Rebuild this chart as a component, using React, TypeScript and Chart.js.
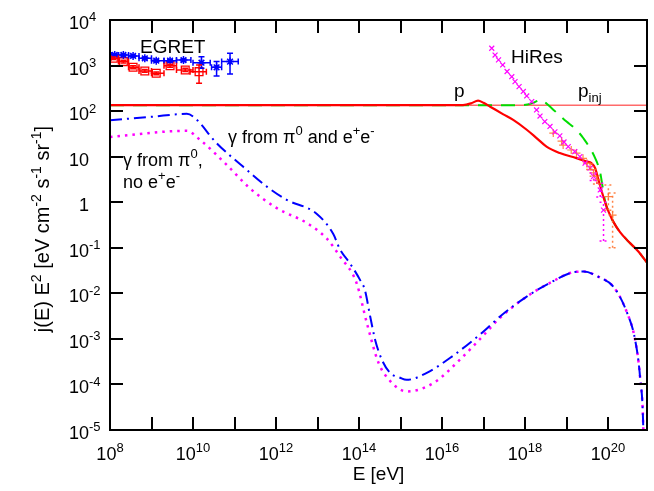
import React, { useEffect, useRef } from 'react';
import { Chart, registerables } from 'chart.js';
Chart.register(...registerables);

// ---------- axis ranges & ticks ----------
const E_MIN = 1e8;
const E_MAX = 8.7e20;
const F_MIN = 1e-5;
const F_MAX = 1e4;

const xTickValues = [1e8, 1e9, 1e10, 1e11, 1e12, 1e13, 1e14, 1e15, 1e16, 1e17, 1e18, 1e19, 1e20];
const xLabelValues = [1e8, 1e10, 1e12, 1e14, 1e16, 1e18, 1e20];
const xLabelExps = ['8', '10', '12', '14', '16', '18', '20'];
const yTickValues = [1e4, 1e3, 1e2, 10, 1, 1e-1, 1e-2, 1e-3, 1e-4, 1e-5];
const yLabelBases = ['10', '10', '10', '10', '1', '10', '10', '10', '10', '10'];
const yLabelExps = ['4', '3', '2', '', '', '-1', '-2', '-3', '-4', '-5'];

// ---------- curves ----------
const pInjE = [1e8, 8.7e20];
const pInjFlux = [135, 135];

const protonE = [1e8, 1e12, 1e16, 3.2e16, 5e16, 7.4e16, 1e17, 1.45e17, 3e17, 5.2e17, 1.1e18, 1.9e18, 3.3e18, 6.9e18, 1.74e19, 3.1e19, 3.98e19, 4.9e19, 5.9e19, 7.1e19, 8.5e19, 1e20, 1.35e20, 1.95e20, 3.16e20, 5.25e20, 8.7e20];
const protonFlux = [135, 135, 135, 136, 148, 170, 152, 125, 85, 64, 39, 25.6, 16.6, 12, 9.3, 7.8, 7.2, 5.6, 3.1, 1.7, 1.0, 0.66, 0.37, 0.22, 0.135, 0.085, 0.047];

const protonNoLossE = [1e8, 1e16, 7.9e17, 1.4e18, 2e18, 2.4e18, 3.2e18, 4.4e18, 1e19, 1.58e19, 2.5e19, 4.9e19, 6.5e19, 7.4e19, 8.5e19, 1e20, 1.35e20, 1.95e20, 3.16e20, 5.25e20, 8.7e20];
const protonNoLossFlux = [135, 135, 135, 146, 168, 177, 150, 116, 59, 42, 26, 9.3, 4.4, 2.2, 1.05, 0.66, 0.37, 0.22, 0.135, 0.085, 0.047];

const gammaPairE = [1e8, 1e9, 7.1e9, 1.12e10, 3.7e10, 1.6e11, 6e11, 1.8e12, 9.5e12, 2.4e13, 3.5e13, 6e13, 1.05e14, 1.38e14, 1.86e14, 2.45e14, 3.55e14, 5.6e14, 9.8e14, 1.4e15, 4.3e15, 1.55e16, 1e17, 2.5e17, 1.1e18, 4e18, 1.45e19, 2.6e19, 6.5e19, 1.35e20, 2.8e20, 4.5e20, 5.9e20, 7.1e20, 7.4e20];
const gammaPairFlux = [63, 75, 87, 70, 19.8, 6.05, 2.2, 1.13, 0.56, 0.2, 0.091, 0.046, 0.02, 0.012, 0.0031, 9.5e-4, 3.5e-4, 1.8e-4, 1.4e-4, 1.26e-4, 1.8e-4, 3.8e-4, 1.45e-3, 3.1e-3, 8.5e-3, 0.017, 0.029, 0.030, 0.022, 0.014, 0.004, 9.5e-4, 1.5e-4, 1e-5, 1e-6];

const gammaNoPairE = [1e8, 7.1e9, 1.48e10, 6.5e10, 2.3e11, 1.05e12, 5.5e12, 1.66e13, 3.5e13, 8.7e13, 1.55e14, 2.95e14, 5.6e14, 1.4e15, 6.2e15, 2.7e16, 1e17, 2.5e17, 1.1e18, 4e18, 1.45e19, 2.6e19, 6.5e19, 1.35e20, 2.8e20, 4.5e20, 5.9e20, 7.1e20, 7.4e20];
const gammaNoPairFlux = [27, 37, 23.4, 6.6, 2.05, 0.74, 0.35, 0.16, 0.064, 0.017, 2.2e-3, 3e-4, 1.2e-4, 7e-5, 1.07e-4, 3.5e-4, 1.2e-3, 2.9e-3, 8.5e-3, 0.017, 0.029, 0.030, 0.022, 0.014, 0.004, 9.5e-4, 1.5e-4, 1e-5, 1e-6];

// ---------- HiRes data ----------
const hiresE = [1.58e17, 1.9e17, 2.3e17, 2.9e17, 3.7e17, 4.8e17, 5.75e17, 7.2e17, 9.1e17, 1.1e18, 1.45e18, 1.9e18, 2.3e18, 3e18, 4e18, 5.25e18, 6.9e18, 8.7e18, 1.1e19, 1.58e19, 2.1e19, 2.8e19, 3.7e19, 4.5e19, 6.5e19, 7.8e19];
const hiresFlux = [2400, 1700, 1330, 1030, 740, 570, 445, 345, 270, 215, 162, 106, 78, 59, 46, 35, 28.6, 21, 16.6, 12.9, 10, 7.2, 5.6, 3.7, 1.86, 0.67];
const hiresLo = [null, null, null, null, null, null, null, null, null, null, null, null, null, null, null, null, null, null, null, null, null, null, null, 3.0, 1.3, 0.14];
const hiresHi = [null, null, null, null, null, null, null, null, null, null, null, null, null, null, null, null, null, null, null, null, null, null, null, 4.4, 2.6, 1.0];

const hires2E = [4.8e18, 7.6e18, 8.3e18, 1.3e19, 1.74e19, 2.5e19, 3.1e19, 3.7e19, 4.5e19, 5.4e19, 1.02e20, 1.29e20];
const hires2Flux = [33, 22, 18, 14, 12, 9.2, 7.2, 6, 4.4, 3.1, 1.33, 0.52];
const hires2Lo = [null, null, null, null, null, null, null, 5.2, 3.7, 2.5, 0.67, 0.1];
const hires2Hi = [null, null, null, null, null, null, null, 7.0, 5.2, 3.8, 2.4, 1.6];

// ---------- EGRET data ----------
const egretBlueE = [1.3e8, 2.1e8, 3.6e8, 6.9e8, 1.3e9, 2.8e9, 5.9e9, 1.6e10, 3.7e10, 7.8e10];
const egretBlueFlux = [1710, 1710, 1625, 1445, 1280, 1280, 1320, 1155, 916, 1220];
const egretBlueElo = [1.07e8, 1.6e8, 2.8e8, 5e8, 1e9, 2e9, 4e9, 1e10, 2.8e10, 4.9e10];
const egretBlueEhi = [1.6e8, 2.8e8, 5e8, 1e9, 2e9, 4e9, 8.9e9, 2.6e10, 4.9e10, 1.23e11];
const egretBlueFlo = [1620, 1630, 1550, 1370, 1210, 1200, 1230, 870, 590, 655];
const egretBlueFhi = [1800, 1790, 1700, 1520, 1350, 1360, 1410, 1565, 1220, 1860];

const egretRedE = [1.2e8, 2.1e8, 3.6e8, 6.9e8, 1.3e9, 2.8e9, 6.5e9, 1.4e10];
const egretRedFlux = [1445, 1220, 916, 762, 676, 995, 802, 735];
const egretRedElo = [1.05e8, 1.6e8, 2.8e8, 5e8, 1e9, 2e9, 4e9, 8.5e9];
const egretRedEhi = [1.6e8, 2.8e8, 5e8, 1e9, 2e9, 4e9, 1e10, 2.1e10];
const egretRedFlo = [1350, 1140, 850, 710, 630, 920, 740, 410];
const egretRedFhi = [1540, 1300, 985, 820, 725, 1070, 870, 1030];

const FONT = '"Liberation Sans", Arial, Helvetica, sans-serif';

type Part = { t: string; s?: 'sup' | 'sub' };

function partsWidth(ctx: CanvasRenderingContext2D, parts: Part[], size: number) {
  let w = 0;
  for (const p of parts) {
    ctx.font = `${p.s ? Math.round(size * 0.7) : size}px ${FONT}`;
    w += ctx.measureText(p.t).width;
  }
  return w;
}

function drawParts(ctx: CanvasRenderingContext2D, parts: Part[], x: number, y: number, size: number, align: 'left' | 'center' | 'right') {
  const w = partsWidth(ctx, parts, size);
  let cx = align === 'center' ? x - w / 2 : align === 'right' ? x - w : x;
  ctx.textAlign = 'left';
  ctx.textBaseline = 'alphabetic';
  for (const p of parts) {
    const fs = p.s ? Math.round(size * 0.7) : size;
    ctx.font = `${fs}px ${FONT}`;
    const dy = p.s === 'sup' ? -size * 0.42 : p.s === 'sub' ? size * 0.28 : 0;
    ctx.fillText(p.t, cx, y + dy);
    cx += ctx.measureText(p.t).width;
  }
}

const pts = (xs: number[], ys: number[]) => xs.map((x, i) => ({ x, y: ys[i] }));

function drawErrorBars(ctx: CanvasRenderingContext2D, xs: any, ys: any, E: number[], F: number[], eLo: any, eHi: any, fLo: any, fHi: any, color: string, dash: number[], cap: number) {
  ctx.save();
  ctx.strokeStyle = color;
  ctx.lineWidth = 1.5;
  ctx.setLineDash(dash);
  for (let i = 0; i < E.length; i++) {
    const px = xs.getPixelForValue(E[i]);
    const py = ys.getPixelForValue(F[i]);
    if (eLo && eLo[i] != null) {
      const a = xs.getPixelForValue(eLo[i]);
      const b = xs.getPixelForValue(eHi[i]);
      ctx.beginPath();
      ctx.moveTo(a, py); ctx.lineTo(b, py);
      if (cap) {
        ctx.moveTo(a, py - cap); ctx.lineTo(a, py + cap);
        ctx.moveTo(b, py - cap); ctx.lineTo(b, py + cap);
      }
      ctx.stroke();
    }
    if (fLo && fLo[i] != null) {
      const a = ys.getPixelForValue(fLo[i]);
      const b = ys.getPixelForValue(fHi[i]);
      ctx.beginPath();
      ctx.moveTo(px, a); ctx.lineTo(px, b);
      const c = cap || 4;
      ctx.moveTo(px - c, a); ctx.lineTo(px + c, a);
      ctx.moveTo(px - c, b); ctx.lineTo(px + c, b);
      ctx.stroke();
    }
  }
  ctx.restore();
}

const decorPlugin = {
  id: 'decor',
  afterDatasetsDraw(chart: any) {
    const { ctx, chartArea: ca } = chart;
    const xs = chart.scales.x;
    const ys = chart.scales.y;
    ctx.save();
    ctx.beginPath();
    ctx.rect(ca.left, ca.top, ca.right - ca.left, ca.bottom - ca.top);
    ctx.clip();
    drawErrorBars(ctx, xs, ys, egretBlueE, egretBlueFlux, egretBlueElo, egretBlueEhi, egretBlueFlo, egretBlueFhi, '#0000ff', [], 3);
    drawErrorBars(ctx, xs, ys, egretRedE, egretRedFlux, egretRedElo, egretRedEhi, egretRedFlo, egretRedFhi, '#ff0000', [], 3);
    drawErrorBars(ctx, xs, ys, hiresE, hiresFlux, null, null, hiresLo, hiresHi, '#ff00ff', [2, 3], 0);
    drawErrorBars(ctx, xs, ys, hires2E, hires2Flux, null, null, hires2Lo, hires2Hi, 'rgba(255,110,40,0.85)', [2, 3], 0);
    ctx.restore();
  },
  afterDraw(chart: any) {
    const { ctx, chartArea: ca } = chart;
    const xs = chart.scales.x;
    const ys = chart.scales.y;
    ctx.save();
    ctx.fillStyle = '#000';
    ctx.strokeStyle = '#000';
    // frame
    ctx.lineWidth = 2;
    ctx.strokeRect(ca.left, ca.top, ca.right - ca.left, ca.bottom - ca.top);
    // ticks
    const TL = 13;
    ctx.beginPath();
    for (const v of xTickValues) {
      const px = Math.round(xs.getPixelForValue(v));
      ctx.moveTo(px, ca.bottom); ctx.lineTo(px, ca.bottom - TL);
      ctx.moveTo(px, ca.top); ctx.lineTo(px, ca.top + TL);
    }
    for (const v of yTickValues) {
      const py = Math.round(ys.getPixelForValue(v));
      ctx.moveTo(ca.left, py); ctx.lineTo(ca.left + TL, py);
      ctx.moveTo(ca.right, py); ctx.lineTo(ca.right - TL, py);
    }
    ctx.stroke();
    // x labels
    xLabelValues.forEach((v, i) => {
      const px = xs.getPixelForValue(v);
      drawParts(ctx, [{ t: '10' }, { t: xLabelExps[i], s: 'sup' }], px, ca.bottom + 30, 18, 'center');
    });
    // y labels
    yTickValues.forEach((v, i) => {
      const py = ys.getPixelForValue(v);
      ctx.font = `18px ${FONT}`;
      const bw = ctx.measureText(yLabelBases[i]).width;
      const parts: Part[] = [{ t: yLabelBases[i] }];
      if (yLabelExps[i]) parts.push({ t: yLabelExps[i], s: 'sup' });
      drawParts(ctx, parts, ca.left - 21 - bw, py + 9, 18, 'left');
    });
    // axis titles
    drawParts(ctx, [{ t: 'E [eV]' }], (ca.left + ca.right) / 2, 480, 19, 'center');
    ctx.save();
    ctx.translate(49, (ca.top + ca.bottom) / 2 + 4);
    ctx.rotate(-Math.PI / 2);
    drawParts(ctx, [
      { t: 'j(E) E' }, { t: '2', s: 'sup' }, { t: ' [eV cm' }, { t: '-2', s: 'sup' },
      { t: ' s' }, { t: '-1', s: 'sup' }, { t: ' sr' }, { t: '-1', s: 'sup' }, { t: ']' },
    ], 0, 0, 20, 'center');
    ctx.restore();
    // annotations
    drawParts(ctx, [{ t: 'EGRET' }], 140, 53, 19, 'left');
    drawParts(ctx, [{ t: 'HiRes' }], 511, 63, 19, 'left');
    drawParts(ctx, [{ t: 'p' }], 454, 97, 19, 'left');
    drawParts(ctx, [{ t: 'p' }, { t: 'inj', s: 'sub' }], 578, 97, 19, 'left');
    drawParts(ctx, [{ t: 'γ from π' }, { t: '0', s: 'sup' }, { t: ' and e' }, { t: '+', s: 'sup' }, { t: 'e' }, { t: '-', s: 'sup' }], 228, 143, 18, 'left');
    drawParts(ctx, [{ t: 'γ from π' }, { t: '0', s: 'sup' }, { t: ',' }], 123, 166, 18, 'left');
    drawParts(ctx, [{ t: 'no e' }, { t: '+', s: 'sup' }, { t: 'e' }, { t: '-', s: 'sup' }], 123, 188, 18, 'left');
    ctx.restore();
  },
};

export default function App() {
  const ref = useRef<HTMLCanvasElement>(null);
  useEffect(() => {
    if (!ref.current) return;
    const lineDs = (label: string, E: number[], F: number[], color: string, width: number, dash: number[], order: number) => ({
      label,
      data: pts(E, F),
      showLine: true,
      pointRadius: 0,
      borderColor: color,
      backgroundColor: color,
      borderWidth: width,
      borderDash: dash,
      cubicInterpolationMode: 'monotone',
      order,
    });
    const markDs = (label: string, E: number[], F: number[], color: string, style: string, radius: number, bw: number, order: number) => ({
      label,
      data: pts(E, F),
      showLine: false,
      pointStyle: style,
      pointRadius: radius,
      pointBorderColor: color,
      pointBackgroundColor: 'rgba(255,255,255,0)',
      backgroundColor: 'rgba(255,255,255,0)',
      borderColor: color,
      pointBorderWidth: bw,
      order,
    });
    const chart = new Chart(ref.current, {
      type: 'scatter',
      data: {
        datasets: [
          markDs('HiRes', hiresE, hiresFlux, '#ff00ff', 'crossRot', 3.5, 1.2, 0),
          markDs('HiRes-II', hires2E, hires2Flux, 'rgba(255,110,40,0.85)', 'cross', 4, 1.2, 0),
          markDs('EGRET', egretBlueE, egretBlueFlux, '#0000ff', 'star', 4, 1.5, 1),
          markDs('EGRET2', egretRedE, egretRedFlux, '#ff0000', 'rect', 5.5, 1.3, 1),
          lineDs('p', protonE, protonFlux, '#ff0000', 2.2, [], 2),
          lineDs('p no loss', protonNoLossE, protonNoLossFlux, '#00dd00', 2, [14, 9], 3),
          lineDs('p_inj', pInjE, pInjFlux, '#ff6a6a', 1.5, [], 4),
          lineDs('gamma pair', gammaPairE, gammaPairFlux, '#0000ff', 2, [12, 5, 2, 5], 5),
          lineDs('gamma nopair', gammaNoPairE, gammaNoPairFlux, '#ff00ff', 2.5, [2.5, 5], 6),
        ] as any,
      },
      options: {
        responsive: false,
        devicePixelRatio: 1,
        animation: false,
        layout: { padding: { left: 0, top: 20, right: 7, bottom: 0 } },
        plugins: { legend: { display: false }, tooltip: { enabled: false }, title: { display: false } },
        scales: {
          x: {
            type: 'logarithmic', min: E_MIN, max: E_MAX,
            grid: { display: false }, border: { display: false }, ticks: { display: false },
            afterFit: (s: any) => { s.height = 61; },
          },
          y: {
            type: 'logarithmic', min: F_MIN, max: F_MAX,
            grid: { display: false }, border: { display: false }, ticks: { display: false },
            afterFit: (s: any) => { s.width = 110; },
          },
        },
      } as any,
      plugins: [decorPlugin],
    });
    return () => chart.destroy();
  }, []);
  return (
    <div style={{ position: 'absolute', left: 0, top: 0, width: 654, height: 491, background: '#fff' }}>
      <canvas ref={ref} width={654} height={491} style={{ display: 'block', width: 654, height: 491 }} />
    </div>
  );
}
